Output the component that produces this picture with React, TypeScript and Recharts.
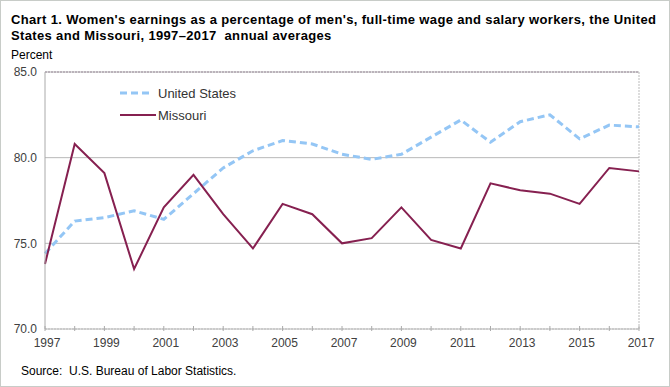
import { LineChart, Line, XAxis, YAxis, CartesianGrid, ReferenceLine } from 'recharts';

const years = [1997, 1998, 1999, 2000, 2001, 2002, 2003, 2004, 2005, 2006, 2007, 2008, 2009, 2010, 2011, 2012, 2013, 2014, 2015, 2016, 2017];
const unitedStates = [74.4, 76.3, 76.5, 76.9, 76.4, 77.9, 79.4, 80.4, 81.0, 80.8, 80.2, 79.9, 80.2, 81.2, 82.2, 80.9, 82.1, 82.5, 81.1, 81.9, 81.8];
const missouri = [73.8, 80.8, 79.1, 73.5, 77.1, 79.0, 76.7, 74.7, 77.3, 76.7, 75.0, 75.3, 77.1, 75.2, 74.7, 78.5, 78.1, 77.9, 77.3, 79.4, 79.2];
const yTicks = [70, 75, 80, 85];
const labeledYears = [1997, 1999, 2001, 2003, 2005, 2007, 2009, 2011, 2013, 2015, 2017];

const data = years.map((year, i) => ({
    year,
    us: unitedStates[i],
    mo: missouri[i],
}));

const FONT = 'Arial, "Liberation Sans", sans-serif';
const US_COLOR = '#94c6f5';
const MO_COLOR = '#862050';

const YearTick = (props: any) => {
    const { x, y, payload } = props;
    const showLabel = labeledYears.includes(payload.value);
    return (
        <g>
            <line x1={x} x2={x} y1={y - 11} y2={y - 6} stroke="#aaa" />
            {showLabel && (
                <text x={x + 2} y={y + 10} textAnchor="middle" fontSize={12} fill="#404040" fontFamily={FONT}>
                    {payload.value}
                </text>
            )}
        </g>
    );
};

const App = () => {
    return (
        <div style={{ position: 'absolute', left: 0, top: 0, width: 670, height: 387, boxSizing: 'border-box', border: '1px solid #c8ccc8', background: '#fff', fontFamily: FONT }}>
            <div style={{ position: 'absolute', left: 10, top: 11, fontSize: 13, fontWeight: 'bold', lineHeight: '16px', letterSpacing: '0.35px', color: '#000', width: 650 }}>
                Chart 1. Women's earnings as a percentage of men's, full-time wage and salary workers, the United
                <br />
                States and Missouri, 1997–2017&nbsp; annual averages
            </div>
            <div style={{ position: 'absolute', left: 10, top: 47, fontSize: 12, color: '#000' }}>Percent</div>
            <div style={{ position: 'absolute', left: 20, top: 363, fontSize: 12, color: '#000' }}>Source:&nbsp; U.S. Bureau of Labor Statistics.</div>

            <div style={{ position: 'absolute', left: -1, top: -1 }}>
                <LineChart width={670} height={387} data={data} margin={{ top: 72, right: 31, bottom: 28, left: 0 }}>
                    <CartesianGrid vertical={false} stroke="#b8b8b8" />
                    <XAxis
                        dataKey="year"
                        type="number"
                        domain={[1997, 2017]}
                        ticks={years}
                        interval={0}
                        height={30}
                        tick={<YearTick />}
                        tickLine={false}
                        axisLine={{ stroke: '#bbb', strokeDasharray: '2 1' }}
                    />
                    <YAxis
                        domain={[70, 85]}
                        ticks={yTicks}
                        width={45}
                        tickFormatter={(v: number) => v.toFixed(1)}
                        tick={{ fontSize: 12, fill: '#404040', fontFamily: FONT }}
                        tickLine={false}
                        axisLine={{ stroke: '#aaa' }}
                    />
                    <ReferenceLine x={2017} stroke="#bbb" strokeDasharray="2 1" />
                    <ReferenceLine y={85} stroke="#9a8a9a" strokeDasharray="2 1" />
                    <Line dataKey="us" stroke={US_COLOR} strokeWidth={3} strokeDasharray="7 4" dot={false} isAnimationActive={false} />
                    <Line dataKey="mo" stroke={MO_COLOR} strokeWidth={2} dot={false} isAnimationActive={false} />
                </LineChart>
            </div>

            <svg style={{ position: 'absolute', left: 0, top: 0 }} width={670} height={387} pointerEvents="none">
                <line x1={119} x2={152} y1={92} y2={92} stroke={US_COLOR} strokeWidth={3} strokeDasharray="7 4" />
                <text x={157} y={97} fontSize={13} fill="#333" fontFamily={FONT}>United States</text>
                <line x1={119} x2={155} y1={114} y2={114} stroke={MO_COLOR} strokeWidth={2} />
                <text x={157} y={119} fontSize={13} fill="#333" fontFamily={FONT}>Missouri</text>
            </svg>
        </div>
    );
};

export default App;
